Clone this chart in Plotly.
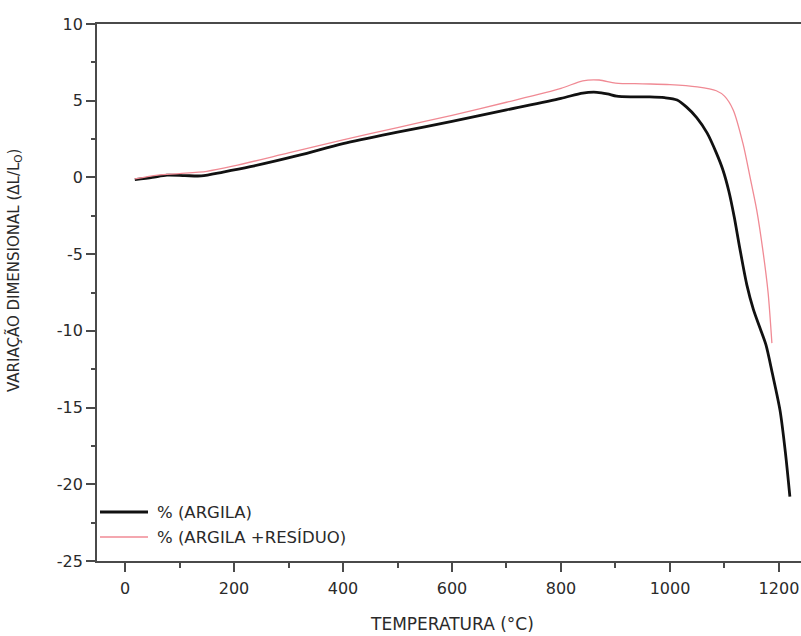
import plotly.graph_objects as go

# Data
temp_argila = [18, 50, 77, 110, 140, 180, 230, 320, 400, 500, 600, 700, 800, 840, 866, 885,
               902, 930, 963, 990, 1013, 1030, 1049, 1068, 1085, 1097, 1108, 1118, 1128, 1141,
               1153, 1165, 1176, 1188, 1202, 1212, 1220]
dl_argila = [-0.15, 0.0, 0.15, 0.12, 0.1, 0.35, 0.7, 1.45, 2.2, 2.95, 3.65, 4.4, 5.15, 5.5,
             5.55, 5.45, 5.3, 5.25, 5.25, 5.2, 5.05, 4.6, 3.9, 2.9, 1.6, 0.5, -0.9, -2.6, -4.6, -7.0,
             -8.6, -9.8, -10.9, -12.8, -15.2, -18.0, -20.8]

temp_residuo = [18, 60, 100, 150, 200, 300, 400, 500, 600, 700, 800, 840, 870, 900, 950,
                1000, 1050, 1085, 1100, 1116, 1134, 1147, 1159, 1171, 1180, 1187]
dl_residuo = [-0.1, 0.15, 0.25, 0.4, 0.75, 1.6, 2.45, 3.25, 4.05, 4.9, 5.8, 6.3, 6.35, 6.15,
              6.1, 6.05, 5.9, 5.65, 5.3, 4.4, 2.2, 0.0, -2.1, -4.9, -7.5, -10.8]

series_names = ["% (ARGILA)", "% (ARGILA +RESÍDUO)"]
series_colors = ["#111111", "#f08a94"]
series_widths = [2.8, 1.3]

x_ticks = [0, 200, 400, 600, 800, 1000, 1200]
x_labels = ["0", "200", "400", "600", "800", "1000", "1200"]
y_ticks = [-25, -20, -15, -10, -5, 0, 5, 10]
y_labels = ["-25", "-20", "-15", "-10", "-5", "0", "5", "10"]

W, H = 801, 636
ML, MR, MT, MB = 97, 0, 24, 75
PW, PH = W - ML - MR, H - MT - MB
FONT = "DejaVu Sans, Liberation Sans, Arial, sans-serif"
TXT = "#2a2a2a"

fig = go.Figure()
for xs, ys, nm, col, lw in [(temp_argila, dl_argila, series_names[0], series_colors[0], series_widths[0]),
                            (temp_residuo, dl_residuo, series_names[1], series_colors[1], series_widths[1])]:
    fig.add_trace(go.Scatter(x=xs, y=ys, mode="lines", name=nm, showlegend=False,
                             line=dict(color=col, width=lw, shape="spline", smoothing=0.8)))

axis_common = dict(showgrid=False, zeroline=False, showline=True, linecolor="#4a4a4a",
                   linewidth=1.8, ticks="outside", tickwidth=1.6, tickcolor="#4a4a4a",
                   tickfont=dict(family=FONT, size=16, color=TXT))

fig.update_xaxes(range=[-51.4, 1240.4], tickvals=x_ticks, ticktext=x_labels, mirror=True,
                 ticklen=9, ticklabelstandoff=3,
                 minor=dict(ticks="outside", ticklen=5, tickwidth=1.6, tickcolor="#4a4a4a", dtick=100),
                 **axis_common)
fig.update_yaxes(range=[-25, 10], tickvals=y_ticks, ticktext=y_labels, ticklen=9,
                 minor=dict(ticks="outside", ticklen=4, tickwidth=1.6, tickcolor="#4a4a4a", dtick=2.5),
                 **axis_common)

fig.add_annotation(text="VARIAÇÃO DIMENSIONAL (ΔL/L<sub>O</sub>)", textangle=-90,
                   xref="paper", yref="paper",
                   x=(14 - ML) / PW, y=(H - MB - 271) / PH,
                   showarrow=False, xanchor="center", yanchor="middle",
                   font=dict(family=FONT, size=15, color=TXT))
fig.add_annotation(text="TEMPERATURA (°C)", xref="paper", yref="paper",
                   x=(452 - ML) / PW, y=-(624 - (H - MB)) / PH,
                   showarrow=False, xanchor="center", yanchor="middle",
                   font=dict(family=FONT, size=17, color=TXT))

# Manual legend (line samples + labels)
legend_y_px = [512, 537]
for i in range(2):
    yp = (H - MB - legend_y_px[i]) / PH
    fig.add_shape(type="line", xref="paper", yref="paper",
                  x0=(100 - ML) / PW, x1=(148 - ML) / PW, y0=yp, y1=yp,
                  line=dict(color=series_colors[i], width=series_widths[i] + (0.4 if i == 0 else 0)))
    fig.add_annotation(text=series_names[i], xref="paper", yref="paper",
                       x=(155 - ML) / PW, y=yp, xanchor="left", yanchor="middle",
                       showarrow=False, font=dict(family=FONT, size=16.5, color=TXT))

fig.update_layout(width=W, height=H, margin=dict(l=ML, r=MR, t=MT, b=MB),
                  plot_bgcolor="white", paper_bgcolor="white", showlegend=False)

fig.write_html("out.html")
